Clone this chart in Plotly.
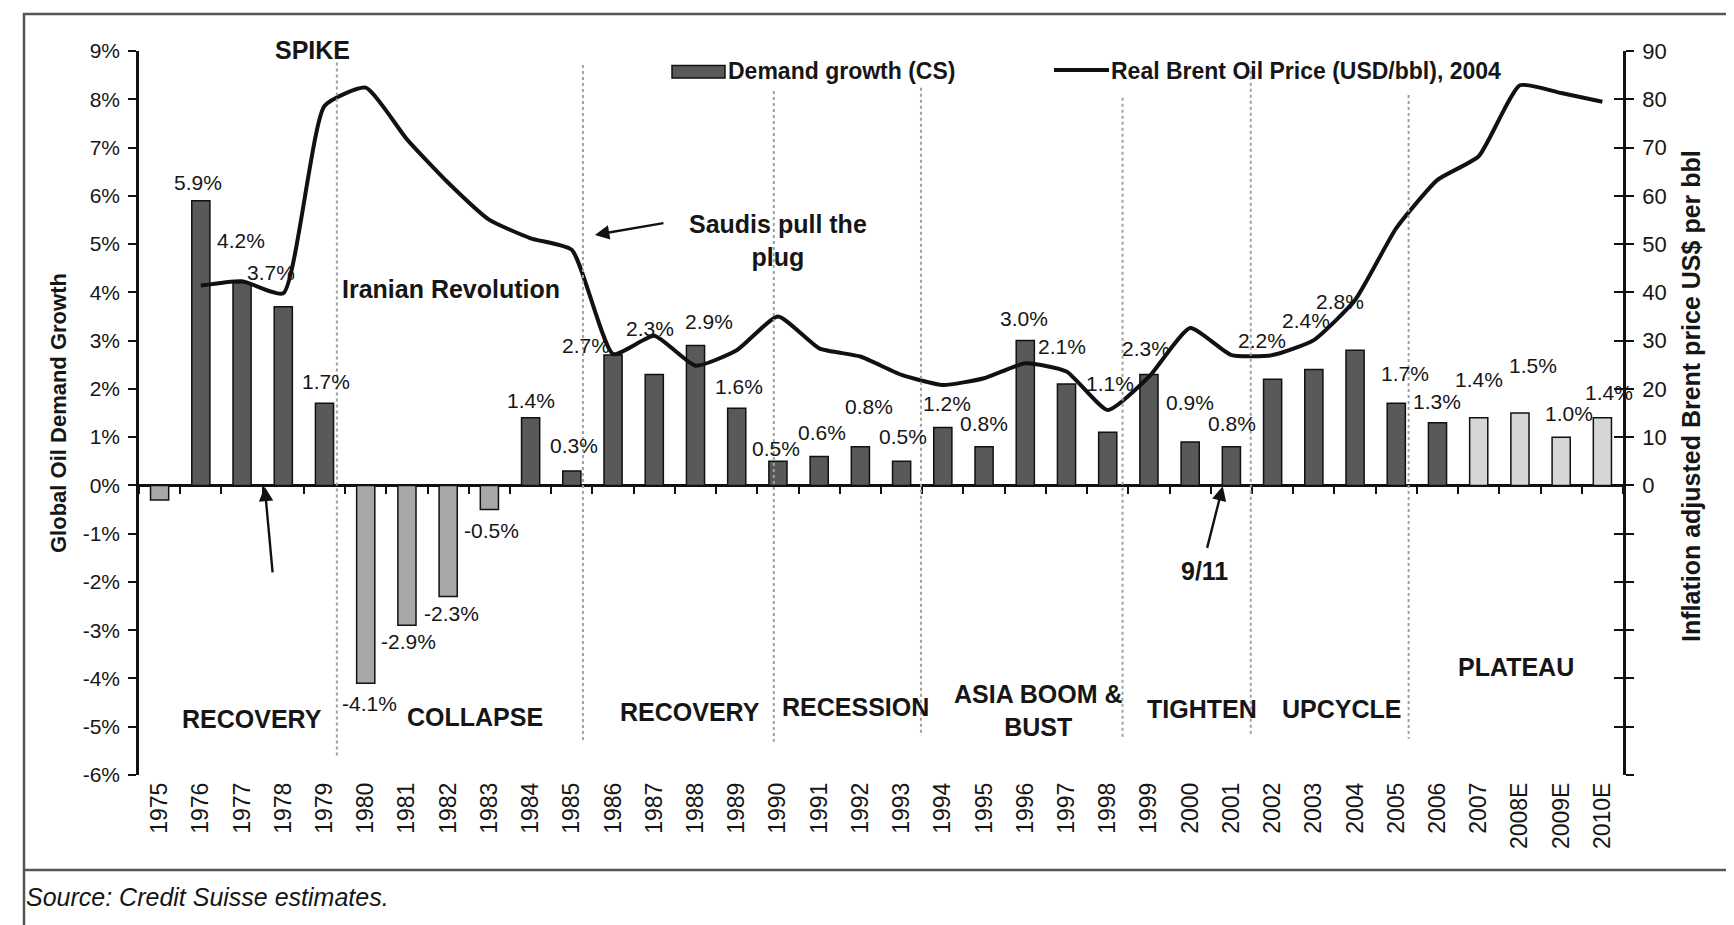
import plotly.graph_objects as go

# ---------------- data ----------------
years = ["1975", "1976", "1977", "1978", "1979", "1980", "1981", "1982", "1983", "1984",
         "1985", "1986", "1987", "1988", "1989", "1990", "1991", "1992", "1993", "1994",
         "1995", "1996", "1997", "1998", "1999", "2000", "2001", "2002", "2003", "2004",
         "2005", "2006", "2007", "2008E", "2009E", "2010E"]

demand_growth = [-0.3, 5.9, 4.2, 3.7, 1.7, -4.1, -2.9, -2.3, -0.5, 1.4,
                 0.3, 2.7, 2.3, 2.9, 1.6, 0.5, 0.6, 0.8, 0.5, 1.2,
                 0.8, 3.0, 2.1, 1.1, 2.3, 0.9, 0.8, 2.2, 2.4, 2.8,
                 1.7, 1.3, 1.4, 1.5, 1.0, 1.4]

price_years = years[1:]
brent_price = [41.4, 42.3, 39.8, 78.6, 82.4, 71.7, 62.7, 55.0, 51.2, 48.8,
               27.2, 31.0, 24.8, 28.0, 35.0, 28.4, 26.7, 22.9, 20.8, 22.2,
               25.3, 23.6, 15.6, 22.5, 32.6, 27.0, 27.0, 30.1, 38.4, 53.3,
               63.3, 68.2, 82.9, 81.3, 79.5]

light_years = ["2007", "2008E", "2009E", "2010E"]
unlabelled_years = ["1975"]

left_ticks = list(range(-6, 10))
right_ticks = list(range(-60, 100, 10))

period_labels = ["SPIKE", "Iranian Revolution", "Saudis pull the<br>plug", "RECOVERY", "COLLAPSE",
                 "RECOVERY", "RECESSION", "ASIA BOOM &<br>BUST", "TIGHTEN", "UPCYCLE", "PLATEAU", "9/11"]

# ---------------- styling / placement ----------------
FONT = "Arial, Liberation Sans, sans-serif"
INK = "#161616"
DARK, MID, LIGHT = "#595959", "#a8a8a8", "#d6d6d6"

bar_colors = [MID if v < 0 else (LIGHT if y in light_years else DARK)
              for y, v in zip(years, demand_growth)]

# (xshift, yshift) in px for each data label
label_offsets = [None, (-3, 18), (-1, 42), (-12, 34), (1, 22), (4, -20), (2, -16), (3, -17), (2, -21), (0, 17),
                 (2, 25), (-27, 10), (-4, 46), (13, 24), (2, 22), (-2, 13), (3, 24), (9, 40), (1, 25), (4, 24),
                 (0, 23), (-1, 22), (-5, 38), (2, 49), (-3, 26), (0, 39), (1, 23), (-11, 39), (-8, 49), (-15, 49),
                 (9, 30), (-1, 21), (0, 38), (13, 48), (8, 24), (7, 25)]

# annotation anchor positions (category index, left-axis value, yshift px)
period_pos = [(3.72, 8.9, 6), (7.06, 4.07, 0), (14.99, 5.08, 0), (2.24, -4.83, 0), (7.64, -4.79, 0),
              (12.87, -4.69, 0), (16.89, -4.59, 0), (21.31, -4.67, 0), (25.28, -4.63, 0), (28.66, -4.63, 0),
              (32.9, -3.76, 0), (25.35, -1.78, 0)]

dividers = [(4.3, 8.76, -5.62), (10.27, 8.71, -5.31), (14.9, 8.17, -5.31), (18.47, 8.24, -5.19),
            (23.36, 8.03, -5.21), (26.47, 8.59, -5.19), (30.3, 8.09, -5.25)]

W, H = 1734, 925
ML, MR, MT, MB = 131, 119, 43, 158
PW, PH = W - ML - MR, H - MT - MB


def px(xpix):
    return (xpix - ML) / PW


def py(ypix):
    return (H - MB - ypix) / PH


fig = go.Figure()

fig.add_trace(go.Bar(
    x=years, y=demand_growth, width=0.44,
    marker=dict(color=bar_colors, line=dict(color="#111111", width=1.5)),
    name="Demand growth (CS)", showlegend=False,
))

fig.add_trace(go.Scatter(
    x=price_years, y=brent_price, xaxis="x2", yaxis="y2", mode="lines",
    line=dict(color="#111111", width=4, shape="spline", smoothing=0.5),
    name="Real Brent Oil Price (USD/bbl), 2004", showlegend=False,
))

annotations = []

# data labels
for i, (yr, v) in enumerate(zip(years, demand_growth)):
    if yr in unlabelled_years:
        continue
    dx, dy = label_offsets[i]
    annotations.append(dict(
        x=i, y=v, xref="x", yref="y", text=f"{v:.1f}%", showarrow=False,
        xshift=dx, yshift=dy, font=dict(family=FONT, size=21, color=INK),
    ))

# period / event labels
for txt, (xx, yy, ys) in zip(period_labels, period_pos):
    annotations.append(dict(
        x=xx, y=yy, xref="x", yref="y", yshift=ys,
        text="<b>" + txt.replace("<br>", "</b><br><b>") + "</b>", showarrow=False,
        font=dict(family=FONT, size=25, color=INK), align="center",
    ))

# arrows (tip position, tail offset in px)
arrow_style = dict(showarrow=True, arrowhead=2, arrowsize=1.2, arrowwidth=2.4,
                   arrowcolor="#111111", text="", xref="x", yref="y")
annotations.append(dict(x=2.55, y=-0.03, ax=8, ay=87, **arrow_style))
annotations.append(dict(x=10.56, y=5.19, ax=70, ay=-12, **arrow_style))
annotations.append(dict(x=25.79, y=-0.02, ax=-16, ay=63, **arrow_style))

paper_text = dict(xref="paper", yref="paper", showarrow=False, yanchor="middle")

# axis titles
annotations.append(dict(x=px(50), y=py(405), xanchor="center", textangle=-90,
                        text="<b>Global Oil Demand Growth</b>",
                        font=dict(family=FONT, size=22, color=INK), **paper_text))
annotations.append(dict(x=px(1683), y=py(388), xanchor="center", textangle=-90,
                        text="<b>Inflation adjusted Brent price US$ per bbl</b>",
                        font=dict(family=FONT, size=25, color=INK), **paper_text))

# legend (manual)
annotations.append(dict(x=px(718), y=py(63.5), xanchor="left",
                        text="<b>Demand growth (CS)</b>",
                        font=dict(family=FONT, size=23, color=INK), **paper_text))
annotations.append(dict(x=px(1101), y=py(63.5), xanchor="left",
                        text="<b>Real Brent Oil Price (USD/bbl), 2004</b>",
                        font=dict(family=FONT, size=23, color=INK), **paper_text))

# source
annotations.append(dict(x=px(16), y=py(889), xanchor="left",
                        text="<i>Source: Credit Suisse estimates.</i>",
                        font=dict(family=FONT, size=25, color=INK), **paper_text))

shapes = []
for xx, y0, y1 in dividers:
    shapes.append(dict(type="line", xref="x", yref="y", x0=xx, x1=xx, y0=y0, y1=y1,
                       line=dict(color="#a0a0a0", width=2, dash="dot"), layer="above"))

shapes.append(dict(type="rect", xref="paper", yref="paper", x0=px(664), x1=px(717),
                   y0=py(70), y1=py(57.5), fillcolor=DARK, line=dict(color="#111111", width=1.5)))
shapes.append(dict(type="line", xref="paper", yref="paper", x0=px(1046), x1=px(1101),
                   y0=py(62), y1=py(62), line=dict(color="#111111", width=4)))

shapes.append(dict(type="line", xref="paper", yref="paper", x0=px(16), x1=px(1732),
                   y0=py(862), y1=py(862), line=dict(color="#555555", width=2.5)))
shapes.append(dict(type="rect", xref="paper", yref="paper", x0=px(16), x1=px(1731),
                   y0=py(922), y1=py(6), line=dict(color="#555555", width=2.5)))

fig.update_layout(
    width=W, height=H,
    margin=dict(l=ML, r=MR, t=MT, b=MB, pad=0),
    paper_bgcolor="white", plot_bgcolor="white",
    font=dict(family=FONT, color=INK),
    showlegend=False,
    xaxis=dict(type="category", range=[-0.5, 35.5], showline=False, ticks="",
               tickangle=-90, tickfont=dict(size=23, color=INK), showgrid=False,
               zeroline=False, ticklabelstandoff=2),
    xaxis2=dict(type="category", categoryorder="array", categoryarray=years,
                overlaying="x", anchor="free", position=0.4, range=[-0.5, 35.5],
                tickson="boundaries", ticks="outside",
                ticklen=8, tickwidth=2, tickcolor="#111111", showticklabels=False,
                showgrid=False, zeroline=False, showline=False),
    yaxis=dict(range=[-6, 9], tickvals=left_ticks, ticktext=[f"{t}%" for t in left_ticks],
               ticks="outside", ticklen=8, tickwidth=2, tickcolor="#111111",
               showline=True, linewidth=2.5, linecolor="#111111", mirror="ticks",
               zeroline=True, zerolinewidth=2.5, zerolinecolor="#111111",
               showgrid=False, tickfont=dict(size=21, color=INK), ticklabelstandoff=4),
    yaxis2=dict(overlaying="y", side="right", anchor="x", range=[-60, 90],
                tickvals=right_ticks, ticktext=[str(t) if t >= 0 else "" for t in right_ticks],
                ticks="inside", ticklen=9, tickwidth=2, tickcolor="#111111",
                showline=True, linewidth=2.5, linecolor="#111111",
                showgrid=False, zeroline=False, tickfont=dict(size=22, color=INK),
                ticklabelstandoff=12),
    annotations=annotations,
    shapes=shapes,
)

fig.write_html("out.html")
